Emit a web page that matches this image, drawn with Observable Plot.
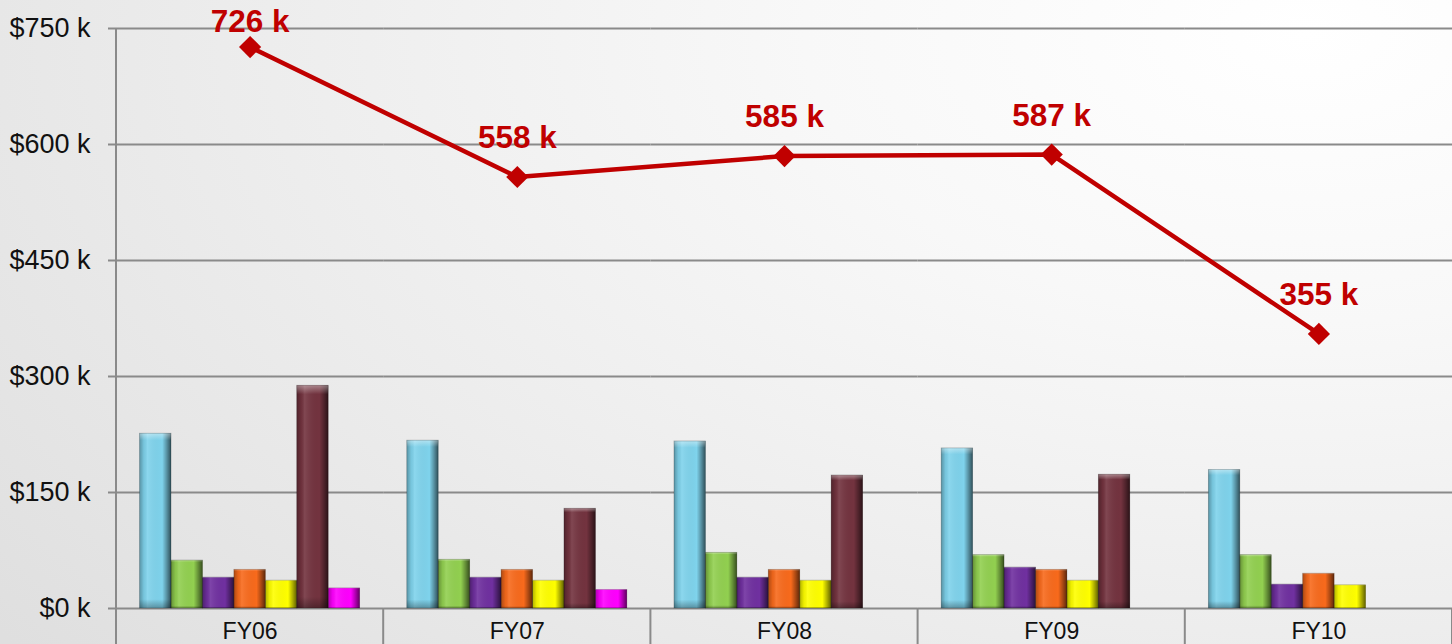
<!DOCTYPE html>
<html><head><meta charset="utf-8">
<script src="https://cdn.jsdelivr.net/npm/d3@7"></script>
<script src="https://cdn.jsdelivr.net/npm/@observablehq/plot@0.6"></script>
<style>
html,body{margin:0;padding:0;overflow:hidden;width:1452px;height:644px;}
body{background: radial-gradient(ellipse 115% 150% at 90% 5%, #ffffff 0%, #f8f8f8 30%, #ececec 65%, #dfdfdf 100%);}
#chart svg{display:block;}
</style></head><body><div id="chart"></div>
<script>
const categories = ["FY06", "FY07", "FY08", "FY09", "FY10"];
const totals = [726, 558, 585, 587, 355];
const seriesNames = ["Series 1", "Series 2", "Series 3", "Series 4", "Series 5", "Series 6", "Series 7"];
const seriesColors = ["#7fd3ec", "#92d050", "#7030a0", "#f86a1c", "#ffff00", "#73333f", "#ff00ff"];
const series1 = [226, 217, 216, 207, 179];
const series2 = [62, 63, 72, 69, 69];
const series3 = [40, 40, 40, 53, 31];
const series4 = [50, 50, 50, 50, 45];
const series5 = [36, 36, 36, 36, 30];
const series6 = [288, 129, 172, 173, null];
const series7 = [26, 24, null, null, null];
const yTicks = [0, 150, 300, 450, 600, 750];

const seriesValues = [series1, series2, series3, series4, series5, series6, series7];
const bars = [];
seriesValues.forEach((vals, s) => vals.forEach((v, c) => {
  if (v != null) bars.push({cat: categories[c], series: seriesNames[s], value: v});
}));
const lineData = categories.map((c, i) => ({cat: c, value: totals[i]}));

const W = 1452, H = 644;
const margins = {marginLeft: 116, marginRight: 0, marginTop: 28, marginBottom: 36};
const font = "'Liberation Sans', Arial, sans-serif";

const svgA = Plot.plot({
  width: W, height: H, ...margins,
  style: {background: "transparent", fontFamily: font, overflow: "visible"},
  fx: {domain: categories, padding: 0, label: null, round: false},
  x: {domain: seriesNames, paddingInner: 0, paddingOuter: 0.75, axis: null, round: false},
  y: {domain: [0, 750], label: null},
  color: {domain: seriesNames, range: seriesColors},
  marks: [
    Plot.gridY({ticks: yTicks, stroke: "#8a8a8a", strokeOpacity: 1, strokeWidth: 2}),
    Plot.axisY({ticks: yTicks, tickFormat: d => `$${d} k`, tickSize: 8, tickPadding: 18,
      fontSize: 27, fill: "#111", stroke: "#8a8a8a", strokeWidth: 2, label: null}),
    Plot.axisFx({anchor: "bottom", tickSize: 0, tickPadding: 14, fontSize: 23, fill: "#111", label: null}),
    Plot.barY(bars, {fx: "cat", x: "series", y: "value", fill: "series"}),
    Plot.barY(bars, {fx: "cat", x: "series", y: "value", fill: "url(#bevelH)"}),
    Plot.barY(bars, {fx: "cat", x: "series", y: "value", fill: "url(#bevelV)", stroke: "rgba(0,0,0,0.25)", strokeWidth: 0.8})
  ]
});

const svgB = Plot.plot({
  width: W, height: H, ...margins,
  style: {background: "transparent", fontFamily: font},
  x: {type: "point", domain: categories, padding: 0.5, axis: null, round: false},
  y: {domain: [0, 750], axis: null},
  marks: [
    Plot.line(lineData, {x: "cat", y: "value", stroke: "#c00000", strokeWidth: 4.5}),
    Plot.dot(lineData, {x: "cat", y: "value", symbol: "diamond2", r: 10, fill: "#c00000", stroke: "none"}),
    Plot.text(lineData, {filter: d => d.value > 700, x: "cat", y: "value", text: d => `${d.value} k`, dy: -25,
      fill: "#c00000", fontSize: 31.5, fontWeight: "bold", fontFamily: font}),
    Plot.text(lineData, {filter: d => d.value <= 700, x: "cat", y: "value", text: d => `${d.value} k`, dy: -39,
      fill: "#c00000", fontSize: 31.5, fontWeight: "bold", fontFamily: font})
  ]
});

// gradient defs for the bevel look
const defs = d3.create("svg:defs");
const gH = defs.append("linearGradient").attr("id", "bevelH").attr("x1", 0).attr("x2", 1).attr("y1", 0).attr("y2", 0);
[[0, "#000", 0.3], [0.14, "#000", 0.06], [0.25, "#fff", 0.1], [0.72, "#000", 0.0], [0.86, "#000", 0.3], [1, "#000", 0.62]]
  .forEach(([o, c, a]) => gH.append("stop").attr("offset", o).attr("stop-color", c).attr("stop-opacity", a));
const gV = defs.append("linearGradient").attr("id", "bevelV").attr("x1", 0).attr("x2", 0).attr("y1", 0).attr("y2", 1);
[[0, "#fff", 0.4], [0.04, "#fff", 0.0], [0.95, "#000", 0.0], [1, "#000", 0.3]]
  .forEach(([o, c, a]) => gV.append("stop").attr("offset", o).attr("stop-color", c).attr("stop-opacity", a));
svgA.insertBefore(defs.node(), svgA.firstChild);

// category separators from the library's scales
const xs = svgB.scale("x"), ys = svgB.scale("y");
const step = xs.apply(categories[1]) - xs.apply(categories[0]);
const bounds = categories.map(c => xs.apply(c) - step / 2).concat([xs.apply(categories[categories.length - 1]) + step / 2]);
const sep = d3.select(svgA).append("g").attr("stroke", "#8a8a8a").attr("stroke-width", 2);
sep.selectAll("line").data(bounds).join("line")
  .attr("x1", d => d).attr("x2", d => d)
  .attr("y1", (d, i) => i === 0 ? ys.apply(750) : ys.apply(0))
  .attr("y2", H);

// merge overlay marks into the main SVG
const gB = d3.select(svgA).append("g").node();
Array.from(svgB.childNodes).forEach(n => { if (n.nodeName.toLowerCase() !== "style") gB.appendChild(n); });

document.getElementById("chart").appendChild(svgA);
</script></body></html>
